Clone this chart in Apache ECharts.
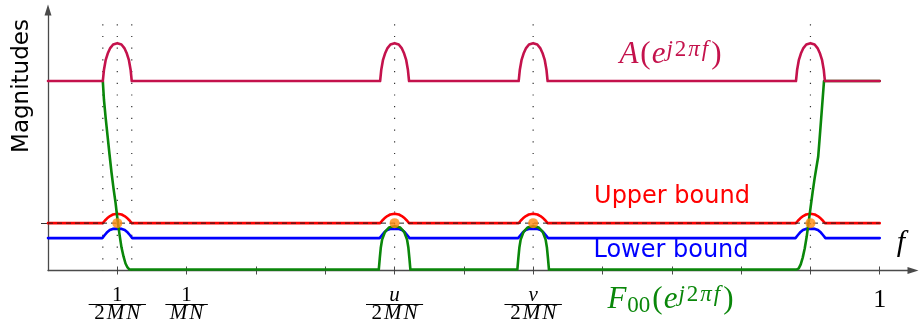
<!DOCTYPE html>
<html>
<head>
<meta charset="utf-8">
<script src="https://cdn.jsdelivr.net/npm/echarts@6/dist/echarts.min.js"></script>
<style>html,body{margin:0;padding:0;background:#fff;}#c{width:920px;height:324px;}</style>
</head>
<body>
<div id="c"></div>
<script>
// ---- data (f in [0,1], magnitudes in arbitrary units) ----
const xTicks = [1/12, 2/12, 3/12, 4/12, 5/12, 6/12, 7/12, 8/12, 9/12, 10/12, 11/12, 1];
const labelTicks = [1/12, 2/12, 5/12, 7/12, 1];
const tickNum = ['1', '1', 'u', 'v', ''];
const tickDen = ['2MN', 'MN', '2MN', '2MN', ''];
const yTicks = [0.25];
const dottedX = [0.0659, 0.0833, 0.1007, 0.4167, 0.5833, 0.9167];
const dottedTop = 1.3;

const aCurve = [
  [0,1.0],
  [0.0659,1.0],[0.0673,1.06],[0.0693,1.11],[0.0718,1.145],[0.0748,1.174],[0.0783,1.193],[0.0833,1.2],[0.0883,1.193],[0.0918,1.174],[0.0948,1.145],[0.0973,1.11],[0.0993,1.06],[0.1007,1.0],
  [0.3993,1.0],[0.4007,1.06],[0.4027,1.11],[0.4052,1.145],[0.4082,1.174],[0.4117,1.193],[0.4167,1.2],[0.4217,1.193],[0.4252,1.174],[0.4282,1.145],[0.4307,1.11],[0.4327,1.06],[0.4341,1.0],
  [0.5659,1.0],[0.5673,1.06],[0.5693,1.11],[0.5718,1.145],[0.5748,1.174],[0.5783,1.193],[0.5833,1.2],[0.5883,1.193],[0.5918,1.174],[0.5948,1.145],[0.5973,1.11],[0.5993,1.06],[0.6007,1.0],
  [0.8993,1.0],[0.9007,1.06],[0.9027,1.11],[0.9052,1.145],[0.9082,1.174],[0.9117,1.193],[0.9167,1.2],[0.9217,1.193],[0.9252,1.174],[0.9282,1.145],[0.9307,1.11],[0.9327,1.06],[0.9341,1.0],
  [1.0,1.0]
];

const upperCurve = [
  [0,0.25],
  [0.0659,0.25],[0.0685,0.264],[0.0711,0.2755],[0.0746,0.2875],[0.0781,0.2955],[0.0833,0.30],[0.0885,0.2955],[0.0920,0.2875],[0.0955,0.2755],[0.0981,0.264],[0.1007,0.25],
  [0.3993,0.25],[0.4019,0.264],[0.4045,0.2755],[0.4080,0.2875],[0.4115,0.2955],[0.4167,0.30],[0.4219,0.2955],[0.4254,0.2875],[0.4289,0.2755],[0.4315,0.264],[0.4341,0.25],
  [0.5659,0.25],[0.5685,0.264],[0.5711,0.2755],[0.5746,0.2875],[0.5781,0.2955],[0.5833,0.30],[0.5885,0.2955],[0.5920,0.2875],[0.5955,0.2755],[0.5981,0.264],[0.6007,0.25],
  [0.8993,0.25],[0.9019,0.264],[0.9045,0.2755],[0.9080,0.2875],[0.9115,0.2955],[0.9167,0.30],[0.9219,0.2955],[0.9254,0.2875],[0.9289,0.2755],[0.9315,0.264],[0.9341,0.25],
  [1.0,0.25]
];

const lowerCurve = [
  [0,0.171],
  [0.0653,0.171],[0.0680,0.186],[0.0707,0.200],[0.0743,0.2135],[0.0779,0.2195],[0.0833,0.221],[0.0887,0.2195],[0.0923,0.2135],[0.0959,0.200],[0.0986,0.186],[0.1013,0.171],
  [0.3987,0.171],[0.4014,0.186],[0.4041,0.200],[0.4077,0.2135],[0.4113,0.2195],[0.4167,0.221],[0.4221,0.2195],[0.4257,0.2135],[0.4293,0.200],[0.4320,0.186],[0.4347,0.171],
  [0.5653,0.171],[0.5680,0.186],[0.5707,0.200],[0.5743,0.2135],[0.5779,0.2195],[0.5833,0.221],[0.5887,0.2195],[0.5923,0.2135],[0.5959,0.200],[0.5986,0.186],[0.6013,0.171],
  [0.8987,0.171],[0.9014,0.186],[0.9041,0.200],[0.9077,0.2135],[0.9113,0.2195],[0.9167,0.221],[0.9221,0.2195],[0.9257,0.2135],[0.9293,0.200],[0.9320,0.186],[0.9347,0.171],
  [1.0,0.171]
];

const fCurve = [
  [0.0659,1.0],[0.0673,0.900],[0.0692,0.811],[0.0716,0.711],[0.0740,0.611],[0.0764,0.516],[0.0788,0.432],[0.0812,0.358],[0.0836,0.268],[0.0860,0.189],[0.0884,0.121],[0.0908,0.074],[0.0932,0.037],[0.0956,0.016],[0.0980,0.005],
  [0.3977,0.005],[0.3989,0.065],[0.4001,0.12],[0.4017,0.163],[0.4052,0.204],[0.4099,0.227],[0.4167,0.234],[0.4235,0.227],[0.4282,0.204],[0.4317,0.163],[0.4333,0.12],[0.4345,0.065],[0.4357,0.005],
  [0.5643,0.005],[0.5655,0.065],[0.5667,0.12],[0.5683,0.163],[0.5718,0.204],[0.5765,0.227],[0.5833,0.234],[0.5901,0.227],[0.5948,0.204],[0.5983,0.163],[0.5999,0.12],[0.6011,0.065],[0.6023,0.005],
  [0.8998,0.005],[0.9026,0.011],[0.9050,0.032],[0.9074,0.068],[0.9098,0.116],[0.9122,0.179],[0.9146,0.258],[0.9170,0.337],[0.9194,0.416],[0.9218,0.489],[0.9242,0.553],[0.9260,0.600],[0.9278,0.700],[0.9302,0.837],[0.9330,1.0],
  [1.0,1.0]
];

const touchPoints = [[0.0833,0.25],[0.4167,0.25],[0.5833,0.25],[0.9167,0.25]];
const upperLevel = [[0,0.25],[1,0.25]];

// ---- chart ----
const chart = echarts.init(document.getElementById('c'), null, {renderer: 'canvas'});
const AX = '#4a4a4a';
const SERIF = 'Liberation Serif';
const SANS = 'DejaVu Sans';

const dottedSeries = dottedX.map(x => ({
  type: 'line', data: [[x, dottedTop], [x, 0]], showSymbol: false, silent: true,
  lineStyle: {color: '#333', width: 1.2, type: [1.2, 10.5]}, z: 1
}));

const lineSeries = (data, color, width, extra) => Object.assign({
  type: 'line', data: data, showSymbol: false, silent: true, z: 3,
  lineStyle: {color: color, width: width, join: 'round', cap: 'round'}
}, extra || {});

function fracLabel(v) {
  let k = -1;
  labelTicks.forEach((t, j) => { if (Math.abs(t - v) < 1e-6) k = j; });
  if (k < 0) return '';
  if (!tickDen[k]) return '{one|1}';
  const den = tickDen[k];
  const bar = den === 'MN' ? 'hrS' : 'hrL';
  let denStr = '';
  den.split('').forEach(ch => { denStr += (/[0-9]/.test(ch) ? '{du|' : '{di|') + ch + '}'; });
  const numStr = /[0-9]/.test(tickNum[k]) ? '{nu|' + tickNum[k] + '}' : '{ni|' + tickNum[k] + '}';
  return numStr + '\n{' + bar + '|}\n' + denStr;
}

const mathRich = (color, main, sup) => ({
  i: {fontFamily: SERIF, fontStyle: 'italic', fontSize: main, lineHeight: 34, verticalAlign: 'middle', color: color, padding: [0, 1, 0, 0]},
  u: {fontFamily: SERIF, fontSize: main, lineHeight: 34, verticalAlign: 'middle', color: color, padding: [0, 1, 0, 1]},
  b: {fontFamily: SERIF, fontSize: sup, verticalAlign: 'bottom', color: color, padding: [0, 1, 0, 0]},
  si: {fontFamily: SERIF, fontStyle: 'italic', fontSize: sup, verticalAlign: 'top', color: color, padding: [0, 2, 0, 0]},
  su: {fontFamily: SERIF, fontSize: sup, verticalAlign: 'top', color: color, padding: [0, 2, 0, 0]}
});

const option = {
  animation: false,
  backgroundColor: '#fff',
  grid: {left: 48, top: 10, width: 865, height: 261, containLabel: false},
  xAxis: [{
    type: 'value', min: 0, max: 1.04,
    axisLine: {show: true, lineStyle: {color: AX, width: 1.3}, symbol: ['none', 'triangle'], symbolSize: [7, 11]},
    axisTick: {show: true, customValues: xTicks, length: 4, lineStyle: {color: AX, width: 1}},
    axisLabel: {
      show: true, customValues: labelTicks, margin: 16, formatter: fracLabel,
      rich: {
        nu: {fontFamily: SERIF, fontSize: 21, lineHeight: 18, align: 'center', color: '#000'},
        ni: {fontFamily: SERIF, fontStyle: 'italic', fontSize: 21, lineHeight: 18, align: 'center', color: '#000'},
        du: {fontFamily: SERIF, fontSize: 21, lineHeight: 18, align: 'center', color: '#000', padding: [0, 1, 0, 1]},
        di: {fontFamily: SERIF, fontStyle: 'italic', fontSize: 21, lineHeight: 18, align: 'center', color: '#000', padding: [0, 1, 0, 1]},
        hrL: {width: 57, height: 0, borderColor: '#000', borderWidth: 1, align: 'center'},
        hrS: {width: 42, height: 0, borderColor: '#000', borderWidth: 1, align: 'center'},
        one: {fontFamily: SERIF, fontSize: 26, lineHeight: 28, align: 'center', color: '#000'}
      }
    },
    splitLine: {show: false}
  }, {
    type: 'value', min: 0, max: 1.04, position: 'bottom',
    axisLine: {show: false},
    axisTick: {show: true, inside: true, customValues: xTicks, length: 4, lineStyle: {color: AX, width: 1}},
    axisLabel: {show: false}, splitLine: {show: false}
  }],
  yAxis: {
    type: 'value', min: 0, max: 1.375,
    axisLine: {show: true, lineStyle: {color: AX, width: 1.3}, symbol: ['none', 'triangle'], symbolSize: [7, 11]},
    axisTick: {show: true, customValues: yTicks, length: 7, lineStyle: {color: '#333', width: 1}},
    axisLabel: {show: false},
    splitLine: {show: false}
  },
  series: dottedSeries.concat([
    lineSeries(upperCurve, '#ff0000', 2.6),
    lineSeries(lowerCurve, '#0000ff', 2.6),
    lineSeries(fCurve, '#0a870a', 2.6, {z: 4}),
    lineSeries(aCurve, '#c4124c', 2.6, {z: 5}),
    {type: 'line', data: upperLevel, showSymbol: false, silent: true, z: 6,
      lineStyle: {color: '#222', width: 1, type: [5, 4]}},
    {type: 'scatter', data: touchPoints, symbolSize: 10, silent: true, z: 7,
      itemStyle: {color: '#ff8a10'}}
  ]),
  graphic: [
    {type: 'text', x: 22, y: 86, rotation: Math.PI / 2, silent: true,
      style: {text: 'Magnitudes', fontFamily: SANS, fontSize: 23, fill: '#000', align: 'center', verticalAlign: 'middle'}},
    {type: 'text', x: 671, y: 55, silent: true,
      style: {
        text: '{i|A}{u|(}{i|e}{si|j}{su|2}{si|π}{si|f}{u|)}', align: 'center', verticalAlign: 'middle', fill: '#c4124c',
        rich: mathRich('#c4124c', 31, 23)
      }},
    {type: 'text', x: 672, y: 197, silent: true,
      style: {text: 'Upper bound', fontFamily: SANS, fontSize: 24, fill: '#ff0000', align: 'center', verticalAlign: 'middle'}},
    {type: 'text', x: 671, y: 251, silent: true,
      style: {text: 'Lower bound', fontFamily: SANS, fontSize: 24, fill: '#0000ff', align: 'center', verticalAlign: 'middle'}},
    {type: 'text', x: 671, y: 300, silent: true,
      style: {
        text: '{i|F}{b|00}{u|(}{i|e}{si|j}{su|2}{si|π}{si|f}{u|)}', align: 'center', verticalAlign: 'middle', fill: '#0a870a',
        rich: mathRich('#0a870a', 31, 23)
      }},
    {type: 'text', x: 901, y: 243, silent: true,
      style: {text: 'f', fontFamily: SERIF, fontStyle: 'italic', fontSize: 30, fill: '#000', align: 'center', verticalAlign: 'middle'}}
  ]
};
chart.setOption(option);
</script>
</body>
</html>
